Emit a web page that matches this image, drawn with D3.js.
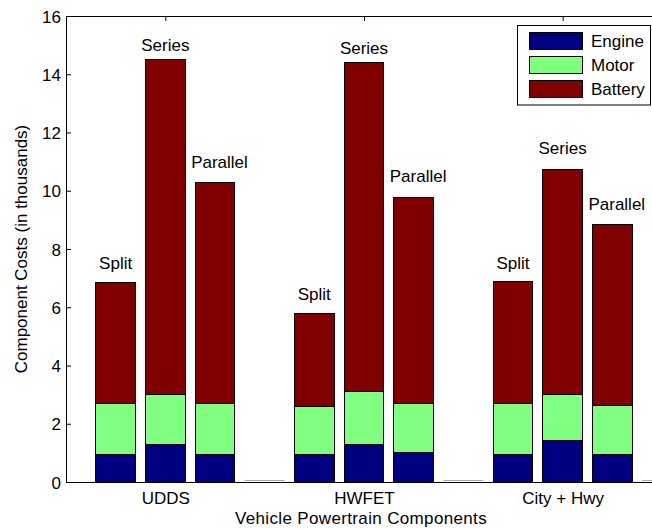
<!DOCTYPE html>
<html><head><meta charset="utf-8">
<script src="https://cdn.jsdelivr.net/npm/d3@7"></script>
<style>
html,body{margin:0;padding:0;background:#fff;}
svg{display:block;font-family:"Liberation Sans",Arial,Helvetica,sans-serif;}
</style></head>
<body>
<svg id="chart" width="652" height="529"></svg>
<script>
// ---- data ----
const categories = ["UDDS", "HWFET", "City + Hwy"];
const configs = ["Split", "Series", "Parallel"];
const seriesNames = ["Engine", "Motor", "Battery"];
// values in thousands, order: UDDS(Split,Series,Parallel), HWFET(...), City + Hwy(...)
const engine  = [0.96, 1.30, 0.96,  0.96, 1.30, 1.03,  0.96, 1.41, 0.96];
const motor   = [1.75, 1.72, 1.75,  1.63, 1.80, 1.67,  1.73, 1.61, 1.68];
const battery = [4.15, 11.49, 7.57, 3.20, 11.31, 7.07, 4.18, 7.70, 6.19];
const yTicks = [0, 2, 4, 6, 8, 10, 12, 14, 16];
const colors = ["#000080", "#80ff80", "#800000"];

(function () {
// ---- layout ----
const W = 652, H = 529;
const mLeft = 66, mRight = 656, mTop = 16, mBottom = 482;
const svg = d3.select("#chart");

// one slot per bar, 4 slots per group (4th is an empty bar)
const rows = [];
categories.forEach((c, g) => {
  configs.forEach((t, k) => {
    const i = g * 3 + k;
    rows.push({slot: g * 4 + k + 1, cat: c, config: t, Engine: engine[i], Motor: motor[i], Battery: battery[i]});
  });
});
const emptySlots = categories.map((c, g) => g * 4 + 4);
const tickSlots = categories.map((c, g) => g * 4 + 2);

const x = d3.scaleLinear().domain([0, 11.88]).range([mLeft, mRight]);
const y = d3.scaleLinear().domain([0, 16]).range([mBottom, mTop]);
const barW = (x(1) - x(0)) * 0.8;

const stacked = d3.stack().keys(seriesNames)(rows);

// axes (ticks drawn first so bars cover them like the original)
const gx = svg.append("g").attr("transform", `translate(0,${mBottom})`)
  .call(d3.axisBottom(x).tickValues(tickSlots).tickFormat((d, i) => categories[i]).tickSize(-5).tickPadding(10));
const gxTop = svg.append("g").attr("transform", `translate(0,${mTop})`)
  .call(d3.axisTop(x).tickValues(tickSlots).tickFormat("").tickSize(-5));
const gy = svg.append("g").attr("transform", `translate(${mLeft},0)`)
  .call(d3.axisLeft(y).tickValues(yTicks).tickSize(-5).tickPadding(5));
[gx, gxTop, gy].forEach(g => {
  g.select(".domain").remove();
  g.selectAll(".tick line").attr("stroke", "#000").attr("stroke-width", 1);
  g.selectAll("text").attr("font-size", 17).attr("fill", "#000")
    .attr("font-family", "'Liberation Sans', Arial, sans-serif");
});
gx.selectAll("text").attr("dy", "0.71em");
gy.selectAll("text").attr("dy", "0.36em");

// bars
stacked.forEach((layer, li) => {
  svg.append("g").selectAll("rect").data(layer).join("rect")
    .attr("x", d => x(d.data.slot) - barW / 2)
    .attr("y", d => y(d[1]))
    .attr("width", barW)
    .attr("height", d => y(d[0]) - y(d[1]))
    .attr("fill", colors[li])
    .attr("stroke", "#000")
    .attr("stroke-width", 1)
    .attr("shape-rendering", "crispEdges");
});
// empty (zero-height) bars
svg.append("g").selectAll("line").data(emptySlots).join("line")
  .attr("x1", d => x(d) - barW / 2).attr("x2", d => x(d) + barW / 2)
  .attr("y1", y(0) - 1.5).attr("y2", y(0) - 1.5)
  .attr("stroke", "#aaa").attr("stroke-width", 1);

// axis box lines
svg.append("line").attr("x1", mLeft).attr("x2", W).attr("y1", mBottom + 0.5).attr("y2", mBottom + 0.5).attr("stroke", "#000");
svg.append("line").attr("x1", mLeft).attr("x2", W).attr("y1", mTop + 0.5).attr("y2", mTop + 0.5).attr("stroke", "#000");
svg.append("line").attr("x1", mLeft + 0.5).attr("x2", mLeft + 0.5).attr("y1", mTop).attr("y2", mBottom + 1).attr("stroke", "#000");

// bar labels
const labelLift = {Split: 13, Series: 8, Parallel: 15};
const labelShift = {Split: 0, Series: 0, Parallel: 4.5};
svg.append("g").selectAll("text").data(rows).join("text")
  .attr("x", d => x(d.slot) + labelShift[d.config])
  .attr("y", d => y(d.Engine + d.Motor + d.Battery) - (d.cat === "City + Hwy" && d.config === "Series" ? 15.5 : labelLift[d.config]))
  .attr("text-anchor", "middle")
  .attr("font-size", 17)
  .attr("fill", "#000")
  .text(d => d.config);

// axis titles
svg.append("text").attr("x", 361).attr("y", 524).attr("text-anchor", "middle")
  .attr("font-size", 17).attr("letter-spacing", 0.35).text("Vehicle Powertrain Components");
svg.append("text").attr("transform", `translate(27,${(mTop + mBottom) / 2}) rotate(-90)`)
  .attr("text-anchor", "middle").attr("font-size", 17).text("Component Costs (in thousands)");

// legend
const lg = svg.append("g");
lg.append("rect").attr("x", 517.5).attr("y", 25.5).attr("width", 133).attr("height", 79.5)
  .attr("fill", "#fff").attr("stroke", "#000").attr("stroke-width", 1);
seriesNames.forEach((s, i) => {
  const yy = 32 + i * 24;
  lg.append("rect").attr("x", 529.5).attr("y", yy + 0.5).attr("width", 53).attr("height", 17)
    .attr("fill", colors[i]).attr("stroke", "#000").attr("stroke-width", 1);
  lg.append("text").attr("x", 591).attr("y", yy + 15).attr("font-size", 17).text(s);
});
})();
</script>
</body></html>
